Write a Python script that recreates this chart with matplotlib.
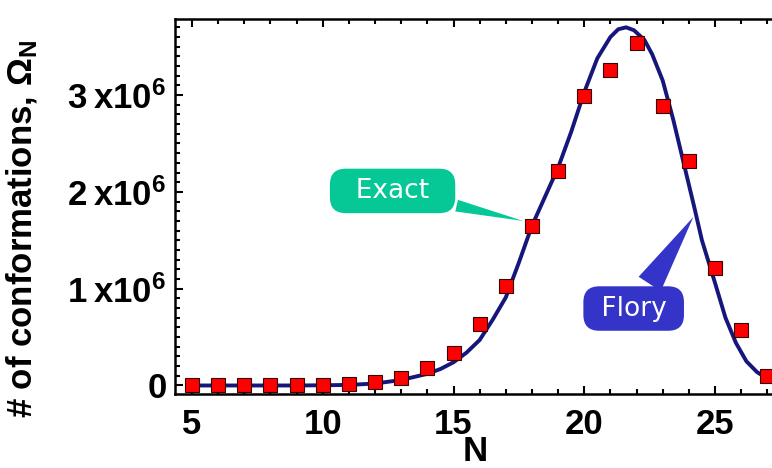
import matplotlib
matplotlib.use("Agg")
import matplotlib.pyplot as plt
from matplotlib.ticker import MultipleLocator, FixedLocator, FixedFormatter

plt.rcParams['font.family'] = ['Liberation Sans', 'DejaVu Sans']
plt.rcParams['font.weight'] = 'bold'
plt.rcParams['mathtext.fontset'] = 'custom'
plt.rcParams['mathtext.rm'] = 'Liberation Sans:bold'
plt.rcParams['mathtext.it'] = 'Liberation Sans:bold'
plt.rcParams['mathtext.bf'] = 'Liberation Sans:bold'

# Exact enumeration (squares)
n_exact = [5, 6, 7, 8, 9, 10, 11, 12, 13, 14, 15, 16, 17, 18, 19, 20, 21, 22, 23, 24, 25, 26, 27]
omega_exact = [0.000, 0.000, 0.001, 0.002, 0.003, 0.005, 0.012, 0.033, 0.074, 0.178, 0.339, 0.632,
               1.031, 1.648, 2.219, 2.990, 3.260, 3.540, 2.890, 2.320, 1.210, 0.570, 0.100]

# Flory estimate (curve)
n_flory = [5, 6, 7, 8, 9, 10, 11, 12, 13, 14, 14.5, 15, 15.5, 16, 16.5, 17, 17.5, 18, 18.5, 19,
           19.5, 20, 20.5, 21, 21.3, 21.6, 21.9, 22.3, 22.6, 23, 23.4, 23.8, 24.2, 24.5, 25,
           25.4, 25.8, 26.2, 26.6, 27, 27.3]
omega_flory = [0.0, 0.0, 0.0, 0.0, 0.0, 0.002, 0.006, 0.02, 0.057, 0.12, 0.17, 0.24, 0.34, 0.47,
               0.68, 0.91, 1.27, 1.65, 1.95, 2.25, 2.62, 3.03, 3.38, 3.60, 3.68, 3.70, 3.67, 3.57,
               3.42, 3.15, 2.75, 2.30, 1.85, 1.50, 1.06, 0.70, 0.44, 0.25, 0.14, 0.07, 0.03]

scale = 1e6
y_exact = [v * scale for v in omega_exact]
y_flory = [v * scale for v in omega_flory]

ytick_vals = [0, 1e6, 2e6, 3e6]
ytick_labels = ["0", "1\u2009x10$^{6}$", "2\u2009x10$^{6}$", "3\u2009x10$^{6}$"]
xtick_vals = [5, 10, 15, 20, 25]

fig = plt.figure(figsize=(7.72, 4.68), dpi=100)
ax = fig.add_axes([175 / 772, (468 - 394) / 468, 608 / 772, 375 / 468])

ax.plot(n_flory, y_flory, color='#16167c', lw=2.8, zorder=2, solid_capstyle='round')
ax.plot(n_exact, y_exact, ls='none', marker='s', ms=10.5, mfc='#ff0000', mec='#3a0000',
        mew=0.8, zorder=3)

ax.set_xlim(4.35, 27.6)
ax.set_ylim(-0.088e6, 3.786e6)

ax.xaxis.set_major_locator(FixedLocator(xtick_vals))
ax.xaxis.set_minor_locator(MultipleLocator(1))
ax.yaxis.set_major_locator(FixedLocator(ytick_vals))
ax.yaxis.set_major_formatter(FixedFormatter(ytick_labels))
ax.yaxis.set_minor_locator(MultipleLocator(1e5))

ax.tick_params(which='both', direction='in', top=True, right=False, width=1.5, color='black')
ax.tick_params(which='major', length=6)
ax.tick_params(which='minor', length=3.5)
ax.tick_params(axis='x', which='major', pad=10, labelsize=25)
ax.tick_params(axis='y', which='major', pad=6, labelsize=25)
for lab in ax.get_xticklabels() + ax.get_yticklabels():
    lab.set_fontweight('bold')

for side in ['left', 'bottom', 'top', 'right']:
    ax.spines[side].set_linewidth(1.8)

ax.set_xlabel("N", fontsize=25, fontweight='bold')
ax.xaxis.set_label_coords((475 - 175) / 608, -0.11)
ax.set_ylabel(r"# of conformations, $\Omega_{N}$", fontsize=25, fontweight='bold')
ax.yaxis.set_label_coords(-0.222, 0.44)

# Callouts
ax.annotate("  Exact  ", xy=(17.66, 1.70e6), xytext=(12.67, 2.01e6),
            textcoords='data', ha='center', va='center', color='white',
            fontsize=19, fontweight='normal', family='DejaVu Sans',
            bbox=dict(boxstyle='round,pad=0.35,rounding_size=0.6', fc='#05c896', ec='none'),
            arrowprops=dict(arrowstyle='wedge,tail_width=0.45,shrink_factor=0.5',
                            fc='#05c896', ec='none', shrinkB=0),
            zorder=4)
ax.annotate(" Flory ", xy=(24.17, 1.74e6), xytext=(21.89, 0.795e6),
            textcoords='data', ha='center', va='center', color='white',
            fontsize=19, fontweight='normal', family='DejaVu Sans',
            bbox=dict(boxstyle='round,pad=0.35,rounding_size=0.6', fc='#3434c8', ec='none'),
            arrowprops=dict(arrowstyle='wedge,tail_width=1.0,shrink_factor=0.5',
                            fc='#3434c8', ec='none', shrinkB=0),
            zorder=4)

fig.savefig("out.png", dpi=100, facecolor='white')
